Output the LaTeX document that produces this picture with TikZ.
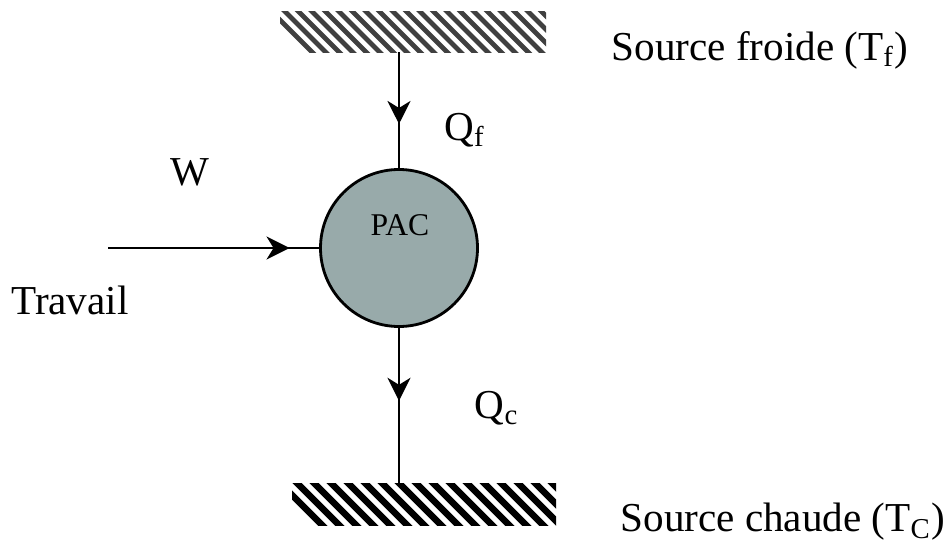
\documentclass[tikz,border=0pt]{standalone}
\usepackage{fontspec}
\setmainfont{Liberation Serif}
\usetikzlibrary{arrows.meta,decorations.markings}
\tikzset{
  flux/.style={line width=0.8pt,postaction={decorate},
    decoration={markings,mark=at position #1 with {\arrow{Stealth[length=2.3mm,width=2.3mm,inset=0.7mm]}}}},
  lbl/.style={font=\fontsize{11.7}{14}\selectfont}
}
\begin{document}
\begin{tikzpicture}[x=1cm,y=1cm]
  \useasboundingbox (0,0) rectangle (9.5,5.45);
  % reservoirs
  \begin{scope}
    \clip (2.80,4.93) rectangle (5.46,5.33);
    \foreach \i in {0,...,24} \draw[line width=1.4pt,black!75] (2.60+0.135*\i,5.45)--++(0.6,-0.6);
  \end{scope}
  \begin{scope}
    \clip (2.92,0.20) rectangle (5.56,0.62);
    \foreach \i in {0,...,20} \draw[line width=1.9pt] (2.70+0.17*\i,0.72)--++(0.6,-0.6);
  \end{scope}
  \coordinate (froid) at (3.99,4.93);
  \coordinate (chaud) at (3.99,0.62);
  \coordinate (w) at (1.08,2.97);
  \node[circle,draw,line width=0.8pt,fill={rgb,255:red,152;green,170;blue,170},minimum size=1.57cm,inner sep=0pt] (pac) at (3.99,2.97) {};
  \node[font=\fontsize{9}{10}\selectfont] (paclbl) at (4.00,3.20) {PAC};
  \draw[flux=0.62] (froid)--(pac.north);
  \draw[flux=0.47] (pac.south)--(chaud);
  \draw[flux=0.86] (w)--(pac.west);
  \node[lbl] (wlbl) at (1.90,3.73) {W};
  \node[lbl] (trav) at (0.70,2.45) {Travail};
  \node[lbl] (qf) at (4.65,4.15) {Q\textsubscript{f}};
  \node[lbl] (qc) at (4.97,1.37) {Q\textsubscript{c}};
  \node[lbl] (sf) at (7.60,4.95) {Source froide (T\textsubscript{f})};
  \node[lbl] (sc) at (7.83,0.23) {Source chaude (T\textsubscript{C})};
\end{tikzpicture}
\end{document}
